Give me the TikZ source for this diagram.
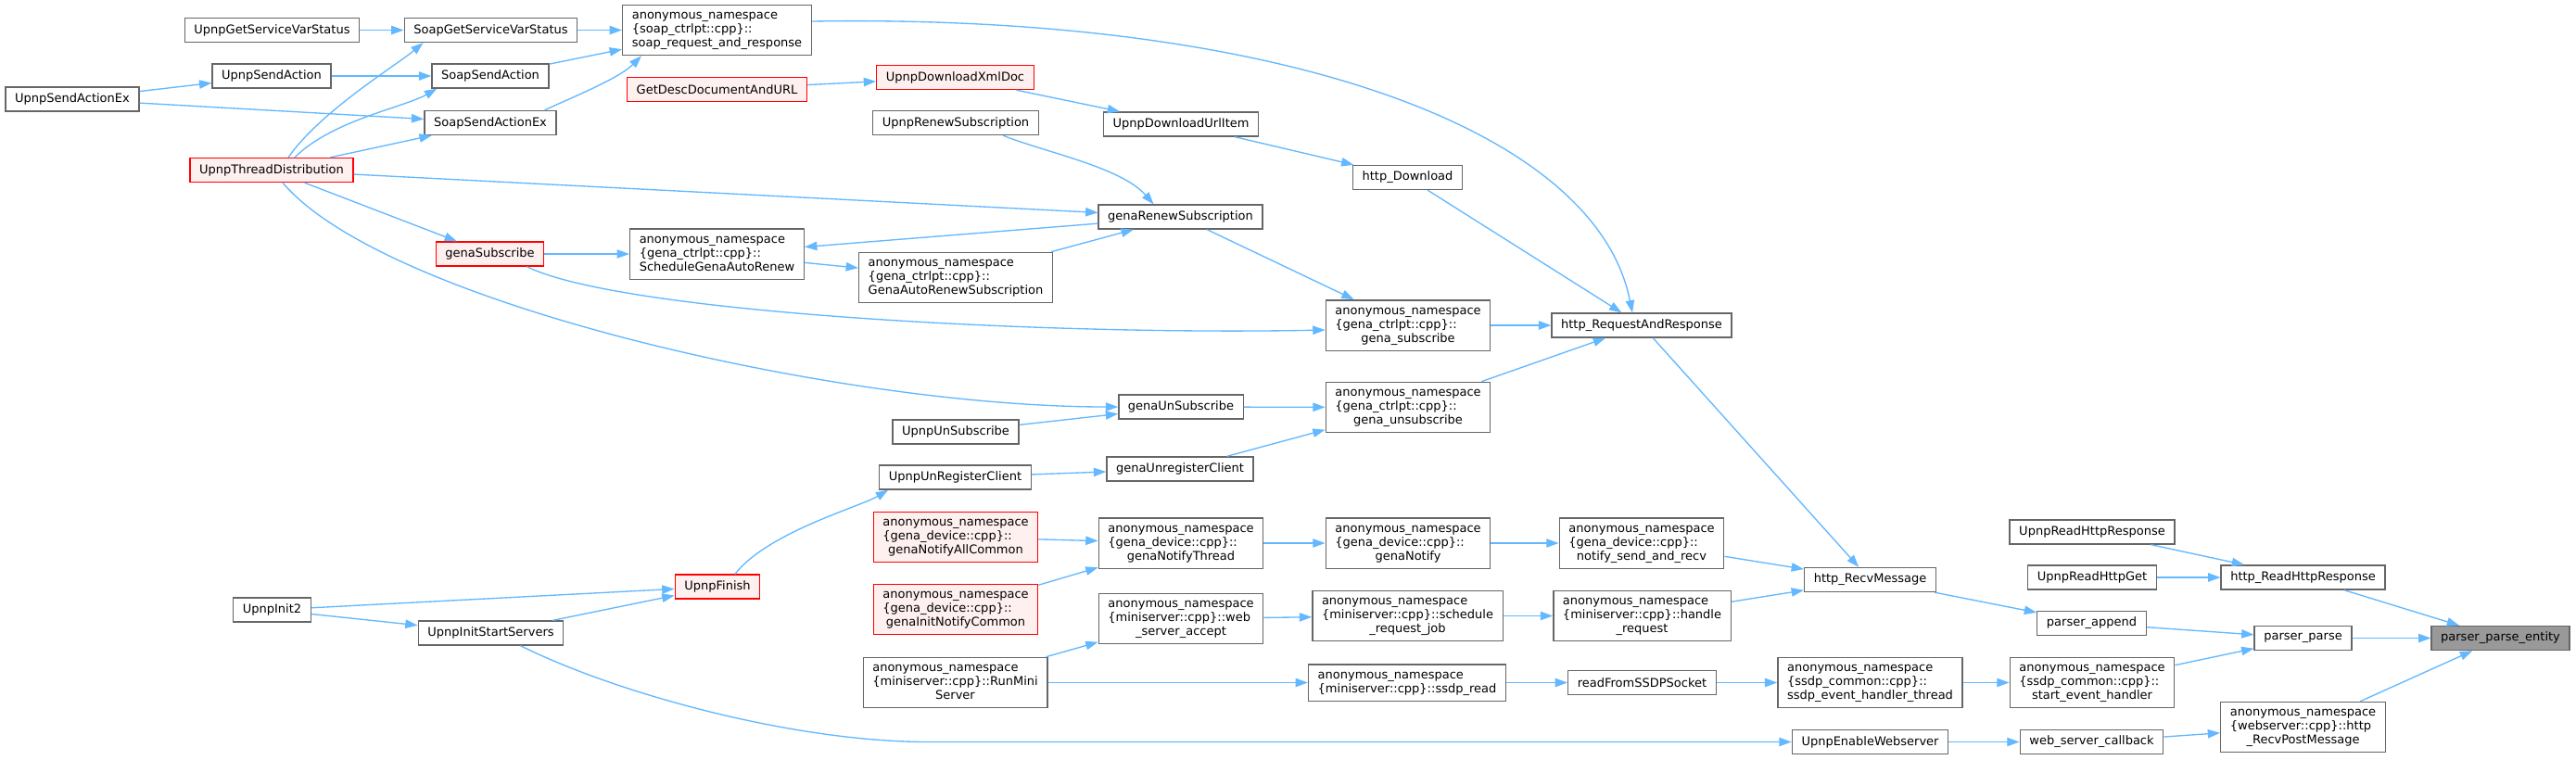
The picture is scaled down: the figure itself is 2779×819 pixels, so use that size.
\documentclass[tikz,border=0pt]{standalone}
\usepackage{fontspec}
\setmainfont{DejaVu Sans}
\usepackage{tikz}
\usetikzlibrary{calc,arrows.meta}
\definecolor{DEdge}{HTML}{63B8FF}
\definecolor{DBorder}{HTML}{666666}
\definecolor{DRed}{HTML}{FF0000}
\definecolor{DRedFill}{HTML}{FFF0F0}
\definecolor{DRoot}{HTML}{999999}
\newcommand{\nsfn}[2]{\begin{tabular}{@{}l@{}}anonymous\_namespace\\#1\\\multicolumn{1}{@{}c@{}}{#2}\end{tabular}}

\begin{document}
\begin{tikzpicture}[
  x=0.75pt, y=-0.75pt,
  every node/.style={font=\fontsize{9.75}{11.25}\selectfont, text=black},
  fn/.style    ={draw=DBorder, fill=white, line width=1pt, inner xsep=7.6pt,
                 inner ysep=3.5pt, minimum height=19.5pt},
  fnred/.style ={fn, draw=DRed, fill=DRedFill},
  fnroot/.style={fn, fill=DRoot},
  callarrow/.style={-{Triangle[length=10pt,width=7pt]}, draw=DEdge, line width=1pt},
]
\path[use as bounding box, fill=white] (0,0) rectangle (2779,819);

\node[fn]    (getVarStat)       at (293.5,32.5)  {UpnpGetServiceVarStatus};
\node[fn]    (soapGetVar)       at (529.5,32.5)  {SoapGetServiceVarStatus};
\node[fn]    (soapReq)          at (773.5,32.5)  {\nsfn{\{soap\_ctrlpt::cpp\}::}{soap\_request\_and\_response}};
\node[fn]    (upnpSendAction)   at (293,82)      {UpnpSendAction};
\node[fn]    (soapSendAction)   at (529,82)      {SoapSendAction};
\node[fnred] (getDesc)          at (773.5,96.5)  {GetDescDocumentAndURL};
\node[fn]    (upnpSendActionEx) at (78,107)      {UpnpSendActionEx};
\node[fn]    (soapSendActionEx) at (529,132.5)   {SoapSendActionEx};
\node[fnred] (threadDist)       at (293,183.5)   {UpnpThreadDistribution};
\node[fnred] (genaSubscribe)    at (528.5,274)   {genaSubscribe};
\node[fn]    (schedRenew)       at (773.5,274)   {\nsfn{\{gena\_ctrlpt::cpp\}::}{ScheduleGenaAutoRenew}};
\node[fnred] (downloadXml)      at (1030.5,83.5) {UpnpDownloadXmlDoc};
\node[fn]    (renewSub)         at (1031,132.5)  {UpnpRenewSubscription};
\node[fn]    (downloadUrl)      at (1274,134)    {UpnpDownloadUrlItem};
\node[fn]    (httpDownload)     at (1518.5,191.5){http\_Download};
\node[fn]    (genaRenew)        at (1273.5,234)  {genaRenewSubscription};
\node[fn]    (genaAutoRenew)    at (1031,299.5)  {\nsfn{\{gena\_ctrlpt::cpp\}::}{GenaAutoRenewSubscription}};
\node[fn]    (genaSubNs)        at (1519,351)    {\nsfn{\{gena\_ctrlpt::cpp\}::}{gena\_subscribe}};
\node[fn]    (httpReqResp)      at (1771,351)    {http\_RequestAndResponse};
\node[fn]    (genaUnSub)        at (1274,439)    {genaUnSubscribe};
\node[fn]    (genaUnsubNs)      at (1519,439.5)  {\nsfn{\{gena\_ctrlpt::cpp\}::}{gena\_unsubscribe}};
\node[fn]    (upnpUnSub)        at (1031,466)    {UpnpUnSubscribe};
\node[fn]    (unRegClient)      at (1030.5,515)  {UpnpUnRegisterClient};
\node[fn]    (genaUnreg)        at (1273,506)    {genaUnregisterClient};
\node[fnred] (notifyAll)        at (1031,579.5)  {\nsfn{\{gena\_device::cpp\}::}{genaNotifyAllCommon}};
\node[fn]    (notifyThread)     at (1274,586)    {\nsfn{\{gena\_device::cpp\}::}{genaNotifyThread}};
\node[fn]    (genaNotify)       at (1519,586)    {\nsfn{\{gena\_device::cpp\}::}{genaNotify}};
\node[fn]    (notifySend)       at (1771,586)    {\nsfn{\{gena\_device::cpp\}::}{notify\_send\_and\_recv}};
\node[fnred] (initNotify)       at (1031,657.5)  {\nsfn{\{gena\_device::cpp\}::}{genaInitNotifyCommon}};
\node[fn]    (webAccept)        at (1274,667.5)  {\nsfn{\{miniserver::cpp\}::web}{\_server\_accept}};
\node[fn]    (schedJob)         at (1518.5,664.5){\nsfn{\{miniserver::cpp\}::schedule}{\_request\_job}};
\node[fn]    (handleReq)        at (1771.5,664.5){\nsfn{\{miniserver::cpp\}::handle}{\_request}};
\node[fn]    (runMini)          at (1030.5,736.5){\nsfn{\{miniserver::cpp\}::RunMini}{Server}};
\node[fn]    (ssdpRead)         at (1518,736.5)  {\begin{tabular}{@{}l@{}}anonymous\_namespace\\\{miniserver::cpp\}::ssdp\_read\end{tabular}};
\node[fn]    (readSSDP)         at (1771.5,736.5){readFromSSDPSocket};
\node[fnred] (upnpFinish)       at (774,633)     {UpnpFinish};
\node[fn]    (upnpInit2)        at (293.5,658)   {UpnpInit2};
\node[fn]    (initStart)        at (529.5,683)   {UpnpInitStartServers};
\node[fn]    (readHttpResp)     at (2257,574)    {UpnpReadHttpResponse};
\node[fn]    (httpRecvMsg)      at (2017.5,625.5){http\_RecvMessage};
\node[fn]    (readHttpGet)      at (2257,623)    {UpnpReadHttpGet};
\node[fn]    (httpReadResp)     at (2484.5,623)  {http\_ReadHttpResponse};
\node[fn]    (parserAppend)     at (2256.5,672.5){parser\_append};
\node[fn]    (parserParse)      at (2484.5,688.5){parser\_parse};
\node[fnroot](parseEntity)      at (2697.5,688.5){parser\_parse\_entity};
\node[fn]    (ssdpThread)       at (2017.5,736.5){\nsfn{\{ssdp\_common::cpp\}::}{ssdp\_event\_handler\_thread}};
\node[fn]    (startEvent)       at (2257,736.5)  {\nsfn{\{ssdp\_common::cpp\}::}{start\_event\_handler}};
\node[fn]    (recvPost)         at (2484.5,784.5){\nsfn{\{webserver::cpp\}::http}{\_RecvPostMessage}};
\node[fn]    (enableWeb)        at (2017.5,800.5){UpnpEnableWebserver};
\node[fn]    (webCallback)      at (2256.5,800.5){web\_server\_callback};

\foreach \a/\b in {getVarStat/soapGetVar, soapGetVar/soapReq, upnpSendAction/soapSendAction,
  soapSendAction/soapReq, upnpSendActionEx/upnpSendAction, upnpSendActionEx/soapSendActionEx,
  threadDist/soapSendActionEx, threadDist/genaRenew, threadDist/genaSubscribe,
  genaSubscribe/schedRenew, genaRenew/schedRenew, schedRenew/genaAutoRenew,
  genaAutoRenew/genaRenew, genaRenew/genaSubNs, genaSubNs/httpReqResp,
  getDesc/downloadXml, downloadXml/downloadUrl, downloadUrl/httpDownload,
  httpDownload/httpReqResp, genaUnsubNs/httpReqResp, genaUnSub/genaUnsubNs,
  upnpUnSub/genaUnSub, genaUnreg/genaUnsubNs, unRegClient/genaUnreg,
  upnpInit2/upnpFinish, upnpInit2/initStart, initStart/upnpFinish,
  notifyAll/notifyThread, initNotify/notifyThread, notifyThread/genaNotify,
  genaNotify/notifySend, notifySend/httpRecvMsg, httpReqResp/httpRecvMsg,
  runMini/webAccept, webAccept/schedJob, schedJob/handleReq, handleReq/httpRecvMsg,
  runMini/ssdpRead, ssdpRead/readSSDP, readSSDP/ssdpThread, ssdpThread/startEvent,
  startEvent/parserParse, httpRecvMsg/parserAppend, parserAppend/parserParse,
  parserParse/parseEntity, readHttpResp/httpReadResp, readHttpGet/httpReadResp,
  httpReadResp/parseEntity, recvPost/parseEntity, enableWeb/webCallback,
  webCallback/recvPost}
  {\draw[callarrow] (\a) -- (\b);}

\draw[callarrow] ($(soapSendActionEx.north east)+(-13,0)$) .. controls +(25,-12) and +(-25,25) .. ($(soapReq.south west)+(21,0)$);
\draw[callarrow] ($(threadDist.north)+(18,0)$) .. controls +(35,-50) and +(-30,25) .. ($(soapGetVar.south west)+(21,0)$);
\draw[callarrow] ($(threadDist.north)+(25,0)$) .. controls +(40,-40) and +(-35,20) .. ($(soapSendAction.south west)+(6,0)$);
\draw[callarrow] ($(threadDist.south)+(12,0)$) .. controls +(110,130) and +(-300,0) .. (genaUnSub.west);
\draw[callarrow] ($(genaSubscribe.south)+(40,0)$) .. controls +(100,50) and +(-300,6) .. ($(genaSubNs.west)+(0,5)$);
\draw[callarrow] ($(renewSub.south)+(51,0)$) .. controls +(45,18) and +(-35,-40) .. ($(genaRenew.north)+(-29,0)$);
\draw[callarrow] ($(soapReq.east)+(0,-9.5)$) .. controls +(500,-8) and +(-40,-200) .. ($(httpReqResp.north)+(-10,0)$);
\draw[callarrow] ($(upnpFinish.north)+(19,0)$) .. controls +(35,-45) and +(-30,18) .. ($(unRegClient.south west)+(10,0)$);
\draw[callarrow] ($(initStart.south)+(32,0)$) .. controls +(100,50) and +(-150,0) .. ($(enableWeb.west)+(-930,0)$) -- (enableWeb.west);
\end{tikzpicture}
\end{document}
